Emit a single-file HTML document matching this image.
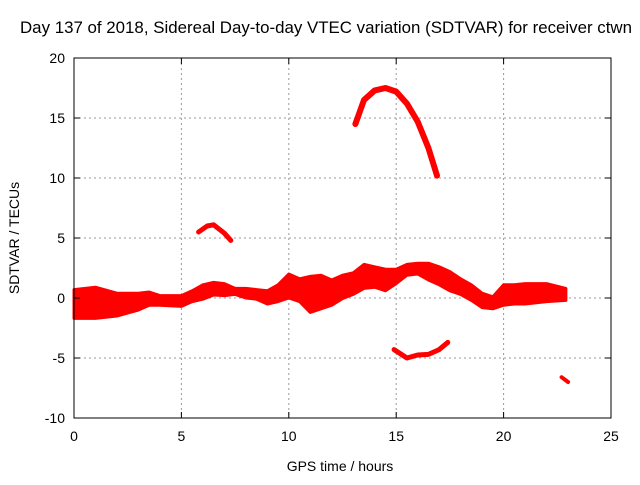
<!DOCTYPE html>
<html><head><meta charset="utf-8"><style>
body{margin:0;background:#fff;width:640px;height:480px;overflow:hidden}
svg text{font-family:"Liberation Sans",sans-serif;font-size:14px;fill:#000}
</style></head><body>
<svg id="chart" width="640" height="480" xmlns="http://www.w3.org/2000/svg">
<text x="326" y="33" text-anchor="middle" style="font-size:16.6px" textLength="612" lengthAdjust="spacingAndGlyphs">Day 137 of 2018, Sidereal Day-to-day VTEC variation (SDTVAR) for receiver ctwn</text>
<text x="340" y="471" text-anchor="middle">GPS time / hours</text>
<text transform="translate(19,238) rotate(-90)" text-anchor="middle">SDTVAR / TECUs</text>
<g id="grid"></g><g id="marks"></g><g id="axes"></g>
</svg>
<script>
const xTicks=[0,5,10,15,20,25];
const yTicks=[-10,-5,0,5,10,15,20];
const bandT=[0,1,2,3,3.5,4,5,5.5,6,6.5,7,7.5,8,8.5,9,9.5,10,10.5,11,11.5,12,12.5,13,13.5,14,14.5,15,15.5,16,16.5,17,17.5,18,18.5,19,19.5,20,20.5,21,22,22.9];
const bandUpper=[0.7,0.9,0.4,0.4,0.5,0.2,0.2,0.6,1.1,1.3,1.2,0.8,0.8,0.7,0.6,1.1,2.0,1.6,1.8,1.9,1.5,1.9,2.1,2.8,2.6,2.4,2.4,2.8,2.9,2.9,2.6,2.2,1.6,1.1,0.4,0.1,1.1,1.1,1.2,1.2,0.8];
const bandLower=[-1.7,-1.7,-1.5,-1.0,-0.6,-0.6,-0.7,-0.3,-0.1,0.25,0.2,0.3,0.0,-0.1,-0.5,-0.3,0.0,-0.3,-1.2,-0.9,-0.6,-0.05,0.3,0.8,0.9,0.6,1.2,1.9,2.0,1.5,1.1,0.6,0.3,-0.2,-0.8,-0.9,-0.6,-0.5,-0.5,-0.3,-0.2];
const arcT=[13.1,13.5,14,14.5,15,15.5,16,16.5,16.9];
const arcV=[14.5,16.5,17.3,17.5,17.2,16.2,14.7,12.5,10.2];
const smallT=[5.8,6.2,6.5,7,7.3];
const smallV=[5.5,6.0,6.1,5.4,4.8];
const negT=[14.9,15.5,16,16.5,17,17.4];
const negV=[-4.3,-5.0,-4.75,-4.7,-4.3,-3.7];
const tailT=[22.7,23];
const tailV=[-6.6,-7.0];
const X0=74,X1=611,Y0=418,Y1=58;
const sx=t=>X0+(t-0)/25*(X1-X0);
const sy=v=>Y0-(v+10)/30*(Y0-Y1);
const NS="http://www.w3.org/2000/svg";
function mk(tag,attrs,parent){const e=document.createElementNS(NS,tag);for(const k in attrs)e.setAttribute(k,attrs[k]);document.getElementById(parent).appendChild(e);return e;}
xTicks.forEach(t=>{
 if(t>0&&t<25){const g=mk('line',{x1:sx(t),x2:sx(t),y1:Y1,y2:Y0,stroke:'#999','stroke-dasharray':'2,3'},'grid');}
 const tk=mk('line',{x1:sx(t),x2:sx(t),y1:Y0,y2:Y0-6,stroke:'#000'},'axes');
 const tk2=mk('line',{x1:sx(t),x2:sx(t),y1:Y1,y2:Y1+6,stroke:'#000'},'axes');
 const l=mk('text',{x:sx(t),y:Y0+23,'text-anchor':'middle'},'axes');l.textContent=t;
});
yTicks.forEach(v=>{
 if(v>-10&&v<20){const g=mk('line',{x1:X0,x2:X1,y1:sy(v),y2:sy(v),stroke:'#999','stroke-dasharray':'2,3'},'grid');}
 const tk=mk('line',{x1:X0,x2:X0+6,y1:sy(v),y2:sy(v),stroke:'#000'},'axes');
 const tk2=mk('line',{x1:X1,x2:X1-6,y1:sy(v),y2:sy(v),stroke:'#000'},'axes');
 const l=mk('text',{x:X0-9,y:sy(v)+5,'text-anchor':'end'},'axes');l.textContent=v;
});
const fr=mk('rect',{x:X0,y:Y1,width:X1-X0,height:Y0-Y1,fill:'none',stroke:'#000'},'axes');

let pts=bandT.map((t,i)=>sx(t)+','+sy(bandUpper[i]));
for(let i=bandT.length-1;i>=0;i--)pts.push(sx(bandT[i])+','+sy(bandLower[i]));
const band=mk('polygon',{points:pts.join(' '),fill:'#f00',stroke:'#f00','stroke-width':3,'stroke-linejoin':'round'},'marks');

function line(T,V,name,w){const p=mk('polyline',{points:T.map((t,i)=>sx(t)+','+sy(V[i])).join(' '),fill:'none',stroke:'#f00','stroke-width':w,'stroke-linecap':'round','stroke-linejoin':'round'},'marks');

}
line(arcT,arcV,'upper-arc-series',6);
line(smallT,smallV,'small-arc-series',5);
line(negT,negV,'negative-arc-series',5);
line(tailT,tailV,'tail-series',4);
</script>
</body></html>
